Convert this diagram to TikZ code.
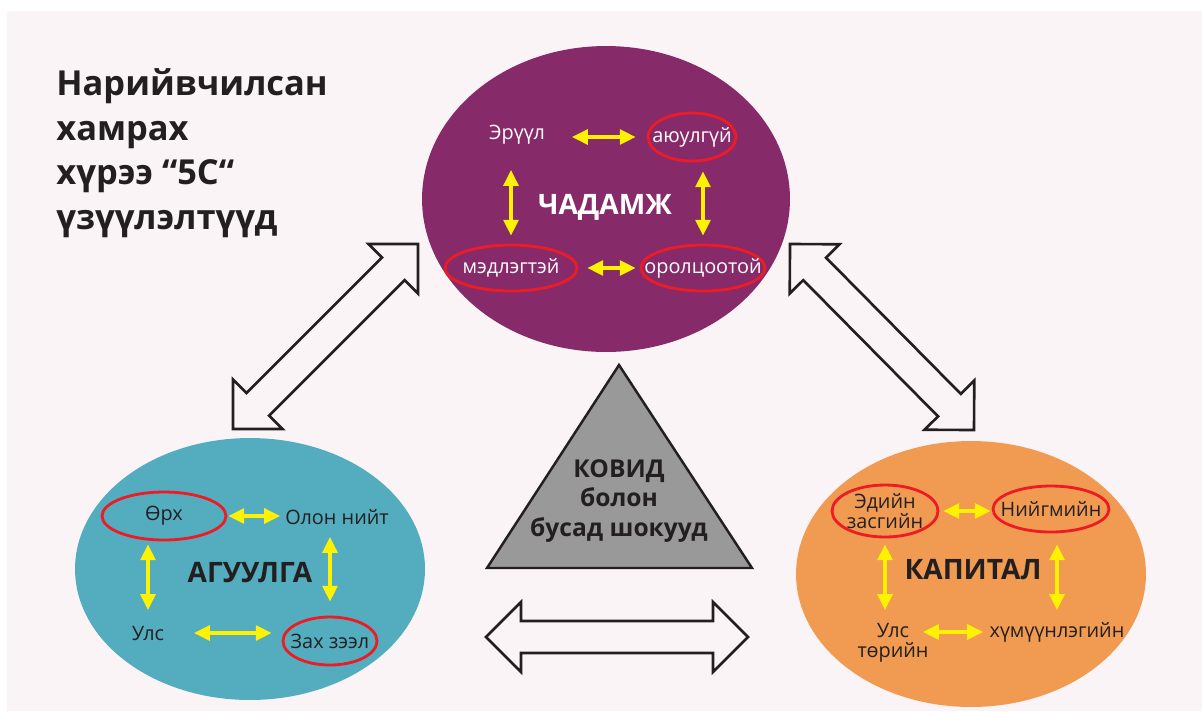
\documentclass[tikz,border=0pt]{standalone}
\usepackage{fontspec}
\setmainfont{Open Sans}
\usetikzlibrary{calc,shapes.geometric,arrows.meta}

\definecolor{bgpink}{HTML}{FAF4F6}
\definecolor{cpurp}{HTML}{862A6A}
\definecolor{cteal}{HTML}{53ADBF}
\definecolor{corange}{HTML}{F09B51}
\definecolor{cgray}{HTML}{999999}
\definecolor{ringred}{HTML}{ED1C24}
\definecolor{yel}{HTML}{FFF200}
\definecolor{dark}{HTML}{231F20}

\newcommand{\hdlen}{0.7cm}
\newcommand{\hdwid}{0.7cm}
\newcommand{\shwid}{0.32cm}
\newcommand{\dblarrow}[2]{%
	\draw[hollow] (#1)
	-- ($($(#1)!\hdlen!(#2)$)!\hdwid!90:(#2)$)
	-- ($($(#1)!\hdlen!(#2)$)!\shwid!90:(#2)$)
	-- ($($(#2)!\hdlen!(#1)$)!\shwid!-90:(#1)$)
	-- ($($(#2)!\hdlen!(#1)$)!\hdwid!-90:(#1)$)
	-- (#2)
	-- ($($(#2)!\hdlen!(#1)$)!\hdwid!90:(#1)$)
	-- ($($(#2)!\hdlen!(#1)$)!\shwid!90:(#1)$)
	-- ($($(#1)!\hdlen!(#2)$)!\shwid!-90:(#2)$)
	-- ($($(#1)!\hdlen!(#2)$)!\hdwid!-90:(#2)$)
	-- cycle;}

\begin{document}
\begin{tikzpicture}[x=0.02cm,y=-0.02cm,text=dark,
	lab/.style={font=\fontsize{11.3}{11.5}\selectfont,inner sep=0pt,align=center},
	big/.style={ellipse,inner sep=0pt},
	ring/.style={ellipse,draw=ringred,line width=1.6pt,inner sep=0pt},
	head/.style={font=\bfseries\fontsize{16}{20}\selectfont,inner sep=0pt},
	yarr/.style={draw=yel,line width=1.8pt,<->,>={Triangle[length=9pt,width=8.5pt]}},
	hollow/.style={draw=dark,line width=1.5pt,line join=miter}]
	\useasboundingbox (0,0) rectangle (1202,711);
	\fill[white] (0,0) rectangle (1202,711);
	\fill[bgpink] (7,11) rectangle (1202,711);
	\path
	(233,429) coordinate (L1) (418,244) coordinate (L2)
	(790,244) coordinate (R1) (974,430) coordinate (R2)
	(486,637) coordinate (B1) (748,637) coordinate (B2)
	(619,365) coordinate (T1) (752,568) coordinate (T2) (487,568) coordinate (T3)
	;
	% title
	\node[font=\bfseries\fontsize{19.6}{25.5}\selectfont,align=left,anchor=north west,inner sep=0pt] (title) at (56,68) {Нарийвчилсан\\хамрах\\хүрээ “5C“\\үзүүлэлтүүд};
	% three fields
	\node[big,fill=cpurp,minimum width=7.36cm,minimum height=6.12cm] (chadE) at (606,199) {};
	\node[big,fill=cteal,minimum width=7cm,minimum height=5.24cm] (aguE) at (250,569) {};
	\node[big,fill=corange,minimum width=7cm,minimum height=5.32cm] (kapE) at (971,574) {};
	\dblarrow{L1}{L2}
	\dblarrow{R1}{R2}
	\dblarrow{B1}{B2}
	\draw[fill=cgray,draw=dark,line width=1.4pt] (T1) -- (T2) -- (T3) -- cycle;
	\node[font=\bfseries\fontsize{14}{17}\selectfont,align=center] (covid) at (619,501) {КОВИД\\болон\\бусад шокууд};
	% chadamj
	\begin{scope}[text=white]
		\node[lab] (eruul) at (517,135) {Эрүүл};
		\node[ring,minimum width=1.76cm,minimum height=0.96cm,label={[lab]center:аюулгүй}] (ayuul) at (692,137) {};
		\node[ring,minimum width=2.64cm,minimum height=0.92cm,label={[lab]center:мэдлэгтэй}] (medleg) at (511,268) {};
		\node[ring,minimum width=2.48cm,minimum height=0.92cm,label={[lab]center:оролцоотой}] (orol) at (703,268) {};
		\node[head] (chadamj) at (605,207) {ЧАДАМЖ};
	\end{scope}
	\draw[yarr,shorten <=0.22cm,shorten >=1.1cm] (ayuul.west) -- (ayuul.west -| eruul);
	\draw[yarr,shorten <=0.18cm,shorten >=0.08cm] (medleg.east) -- (orol.west);
	\draw[yarr,shorten <=0.16cm,shorten >=0.7cm] (medleg.north) -- (medleg.north |- eruul);
	\draw[yarr,shorten <=0.16cm,shorten >=0.18cm] (orol.north) -- (orol.north |- ayuul.south);
	% aguulga
	\node[ring,minimum width=2.48cm,minimum height=0.96cm,label={[lab]center:Өрх}] (orh) at (164,516) {};
	\node[lab] (olon) at (337,517) {Олон нийт};
	\node[lab] (ulsA) at (148,633) {Улс};
	\node[ring,minimum width=1.88cm,minimum height=0.96cm,label={[lab]center:Зах зээл}] (zah) at (330,641) {};
	\node[head] (aguulga) at (250,573) {АГУУЛГА};
	\draw[yarr,shorten <=0.02cm,shorten >=1.14cm] (orh.east) -- (orh.east -| olon);
	\draw[yarr,shorten <=0.92cm,shorten >=0.2cm] (ulsA.center) -- (ulsA.center -| zah.west);
	\draw[yarr,shorten <=0.46cm,shorten >=0.06cm] (ulsA.center) -- (ulsA.center |- orh.south);
	\draw[yarr,shorten <=0.28cm,shorten >=0.4cm] (zah.north) -- (zah.north |- olon);
	% kapital
	\node[ring,minimum width=2.12cm,minimum height=1.04cm,label={[lab]center:Эдийн\\засгийн}] (ekon) at (885,511) {};
	\node[ring,minimum width=2.32cm,minimum height=0.92cm,label={[lab]center:Нийгмийн}] (niig) at (1051,509) {};
	\node[lab] (ulsB) at (893,643) {Улс\\төрийн};
	\node[lab] (hum) at (1057,632) {хүмүүнлэгийн};
	\node[head] (kapital) at (973,570) {КАПИТАЛ};
	\draw[yarr,shorten <=0.08cm,shorten >=0.02cm] (ekon.east) -- (ekon.east -| niig.west);
	\draw[yarr,shorten <=1.48cm,shorten >=0.6cm] (hum.center) -- (hum.center -| ulsB);
	\draw[yarr,shorten <=0.12cm,shorten >=0.66cm] (ekon.south) -- (ekon.south |- ulsB);
	\draw[yarr,shorten <=0.44cm,shorten >=0.22cm] (hum.center) -- (hum.center |- niig.south);
\end{tikzpicture}
\end{document}
